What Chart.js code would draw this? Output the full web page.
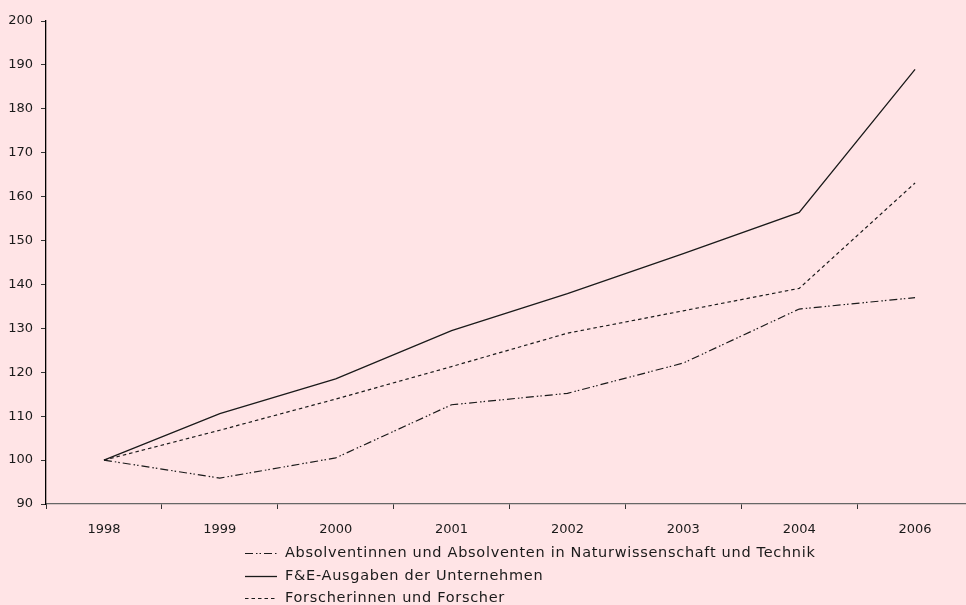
<!DOCTYPE html>
<html lang="de">
<head>
<meta charset="utf-8">
<title>Index 1998 = 100</title>
<script src="https://cdn.jsdelivr.net/npm/chart.js@4/dist/chart.umd.min.js"></script>
<style>
    html, body { margin: 0; padding: 0; overflow: hidden; background: #FFE4E6; }
    #chart { display: block; }
</style>
</head>
<body>
<canvas id="chart" width="974" height="605"></canvas>
<script>
// Index values, 1998 = 100
const years = ['1998', '1999', '2000', '2001', '2002', '2003', '2004', '2006'];
const absolventen = [100, 95.9, 100.5, 112.6, 115.2, 122.1, 134.4, 137.0];
const ausgaben = [100, 110.6, 118.5, 129.5, 137.9, 147.0, 156.4, 189.0];
const forscher = [100, 106.8, 113.9, 121.3, 128.9, 134.0, 139.1, 163.1];

const seriesNames = [
    'Absolventinnen und Absolventen in Naturwissenschaft und Technik',
    'F&E-Ausgaben der Unternehmen',
    'Forscherinnen und Forscher'
];

const yTicks = { min: 90, max: 200, step: 10 };

const FONT = '"DejaVu Sans", sans-serif';
const INK = '#1a1a1a';

// legend block below the axis, one entry per row, left aligned
const stackedLegend = {
    id: 'stackedLegend',
    afterDraw(chart) {
        const ctx = chart.ctx;
        const x0 = 245, lineLen = 32, textGap = 8;
        const rowTop = 553, rowStep = 22.5;
        ctx.save();
        ctx.font = '14.5px ' + FONT;
        ctx.letterSpacing = '0.7px';
        ctx.textBaseline = 'middle';
        ctx.fillStyle = INK;
        chart.data.datasets.forEach((ds, i) => {
            const y = Math.round(rowTop + i * rowStep) + 0.5;
            ctx.strokeStyle = ds.borderColor;
            ctx.lineWidth = ds.borderWidth;
            ctx.setLineDash(ds.borderDash || []);
            ctx.beginPath();
            ctx.moveTo(x0, y);
            ctx.lineTo(x0 + lineLen, y);
            ctx.stroke();
            ctx.setLineDash([]);
            ctx.fillText(ds.label, x0 + lineLen + textGap, y);
        });
        ctx.restore();
    }
};

new Chart(document.getElementById('chart'), {
    type: 'line',
    data: {
        labels: years,
        datasets: [
            { label: seriesNames[0], data: absolventen, borderColor: INK, borderWidth: 1.2, borderDash: [8, 3, 1.5, 2, 1.5, 3] },
            { label: seriesNames[1], data: ausgaben, borderColor: INK, borderWidth: 1.3 },
            { label: seriesNames[2], data: forscher, borderColor: INK, borderWidth: 1.2, borderDash: [3.5, 3] }
        ]
    },
    options: {
        responsive: false,
        animation: false,
        layout: { padding: { top: 21, right: 1, bottom: 60, left: 0 } },
        elements: {
            point: { radius: 0, hoverRadius: 0 },
            line: { tension: 0, fill: false }
        },
        plugins: {
            legend: { display: false },
            tooltip: { enabled: false }
        },
        scales: {
            x: {
                offset: true,
                grid: { offset: true, drawOnChartArea: false, tickLength: 5, color: '#555', tickColor: '#333' },
                border: { color: '#666', width: 1.3 },
                ticks: { color: INK, font: { family: FONT, size: 13 }, padding: 13, maxRotation: 0 },
                afterFit(scale) { scale.height = 41; }
            },
            y: {
                min: yTicks.min,
                max: yTicks.max,
                grid: { drawOnChartArea: false, tickLength: 5, tickColor: '#333' },
                border: { color: '#000', width: 1.3 },
                ticks: { stepSize: yTicks.step, color: INK, font: { family: FONT, size: 13 }, padding: 8 },
                afterFit(scale) { scale.width = 46; }
            }
        }
    },
    plugins: [stackedLegend]
});
</script>
</body>
</html>
